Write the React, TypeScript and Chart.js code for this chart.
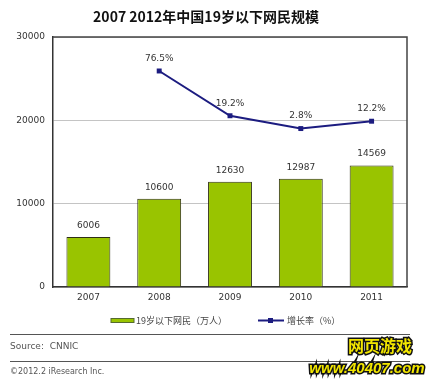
import React, { useEffect, useRef } from "react";
import { Chart, registerables } from "chart.js";

Chart.register(...registerables);

const title = "2007 2012年中国19岁以下网民规模";
const years = ["2007", "2008", "2009", "2010", "2011"];
const users = [6006, 10600, 12630, 12987, 14569];
const growth = [null, 76.5, 19.2, 2.8, 12.2];
const growthLabels = ["", "76.5%", "19.2%", "2.8%", "12.2%"];
const yTicks = [0, 10000, 20000, 30000];
const legendBar = "19岁以下网民（万人）";
const legendLine = "增长率（%）";
const sourceText = "Source:  CNNIC";
const copyText = "©2012.2 iResearch Inc.";

const GREEN = "#99c400";
const NAVY = "#1c1c80";
const FONT = "'DejaVu Sans', 'Noto Sans CJK SC', sans-serif";
const CJK = "'Noto Sans CJK SC', 'DejaVu Sans', sans-serif";

export default function App() {
  const ref = useRef<HTMLCanvasElement | null>(null);

  useEffect(() => {
    document.body.style.margin = "0";
    const canvas = ref.current!;
    const deco = {
      id: "deco",
      afterDraw(chart: any) {
        const ctx = chart.ctx as CanvasRenderingContext2D;
        const area = chart.chartArea;
        ctx.save();
        // frame top & right
        ctx.strokeStyle = "#444";
        ctx.lineWidth = 1.5;
        ctx.beginPath();
        ctx.moveTo(area.left, area.top);
        ctx.lineTo(area.right, area.top);
        ctx.lineTo(area.right, area.bottom);
        ctx.stroke();

        // labels on bars
        ctx.fillStyle = "#333";
        ctx.font = `9px ${FONT}`;
        ctx.textAlign = "center";
        ctx.textBaseline = "bottom";
        const barMeta = chart.getDatasetMeta(0);
        barMeta.data.forEach((el: any, i: number) => {
          ctx.fillText(String(users[i]), el.x, el.y - 7);
        });
        const lineMeta = chart.getDatasetMeta(1);
        lineMeta.data.forEach((el: any, i: number) => {
          if (growth[i] == null) return;
          ctx.fillText(growthLabels[i], el.x, el.y - 8);
        });

        // title
        ctx.fillStyle = "#111";
        ctx.font = `bold 14px ${CJK}`;
        ctx.textBaseline = "middle";
        ctx.fillText(title, 206, 17);

        // legend
        ctx.textAlign = "left";
        ctx.font = `9px ${CJK}`;
        ctx.fillStyle = GREEN;
        ctx.strokeStyle = "#556b2f";
        ctx.lineWidth = 1;
        ctx.fillRect(111, 318.5, 23, 4);
        ctx.strokeRect(111, 318.5, 23, 4);
        ctx.fillStyle = "#444";
        ctx.fillText(legendBar, 136, 321);
        ctx.strokeStyle = NAVY;
        ctx.lineWidth = 2;
        ctx.beginPath();
        ctx.moveTo(258, 320.5);
        ctx.lineTo(284, 320.5);
        ctx.stroke();
        ctx.fillStyle = NAVY;
        ctx.fillRect(268, 318, 5, 5);
        ctx.fillStyle = "#444";
        ctx.fillText(legendLine, 287, 321);

        // separators & footer
        ctx.strokeStyle = "#555";
        ctx.lineWidth = 1;
        ctx.beginPath();
        ctx.moveTo(10, 334.5);
        ctx.lineTo(410, 334.5);
        ctx.moveTo(10, 361.5);
        ctx.lineTo(410, 361.5);
        ctx.stroke();
        ctx.fillStyle = "#555";
        ctx.font = `9px ${FONT}`;
        ctx.fillText(sourceText, 10, 347);
        ctx.font = `8px ${FONT}`;
        ctx.fillText(copyText, 10, 372);

        // watermark text
        ctx.textAlign = "center";
        ctx.font = `bold 16px ${CJK}`;
        ctx.lineWidth = 3;
        ctx.strokeStyle = "#111";
        ctx.strokeText("网页游戏", 380, 346);
        ctx.fillStyle = "#f2e600";
        ctx.fillText("网页游戏", 380, 346);
        ctx.font = `bold italic 15px 'Liberation Sans', sans-serif`;
        ctx.strokeText("www.40407.com", 367, 369);
        ctx.fillText("www.40407.com", 367, 369);
        ctx.restore();
      },
    };

    const chart = new Chart(canvas, {
      type: "bar",
      data: {
        labels: years,
        datasets: [
          {
            type: "bar",
            label: legendBar,
            data: users,
            backgroundColor: GREEN,
            borderColor: "#2e2e14",
            borderWidth: 1,
            barPercentage: 0.62,
            categoryPercentage: 1,
            yAxisID: "y",
            order: 2,
          },
          {
            type: "line",
            label: legendLine,
            data: growth as any,
            borderColor: NAVY,
            backgroundColor: NAVY,
            borderWidth: 2,
            pointStyle: "rect",
            pointRadius: 3.5,
            pointBorderWidth: 0,
            tension: 0,
            yAxisID: "y1",
            order: 1,
          },
        ],
      },
      options: {
        responsive: false,
        animation: false,
        layout: { padding: { top: 37, left: 0, right: 23, bottom: 74 } },
        plugins: {
          legend: { display: false },
          title: { display: false },
          tooltip: { enabled: false },
        },
        scales: {
          x: {
            grid: { display: false, drawTicks: false },
            border: { color: "#333", width: 1.5 },
            ticks: {
              color: "#333",
              font: { size: 9, family: FONT },
              padding: 5,
            },
            afterFit(scale: any) {
              scale.height = 20;
            },
          },
          y: {
            min: 0,
            max: 30000,
            afterBuildTicks(scale: any) {
              scale.ticks = yTicks.map((v) => ({ value: v }));
            },
            grid: {
              drawTicks: false,
              color: "#c4c4c4",
              lineWidth: 1,
            },
            border: { color: "#333", width: 1.5 },
            ticks: {
              color: "#333",
              font: { size: 9, family: FONT },
              padding: 8,
              callback: (v: any) => String(v),
            },
            afterFit(scale: any) {
              scale.width = 53;
            },
          },
          y1: {
            display: false,
            min: -200,
            max: 120,
          },
        },
      },
      plugins: [deco],
    });
    return () => chart.destroy();
  }, []);

  return (
    <div style={{ width: 430, height: 381 }}>
      <canvas ref={ref} width={430} height={381} />
    </div>
  );
}
